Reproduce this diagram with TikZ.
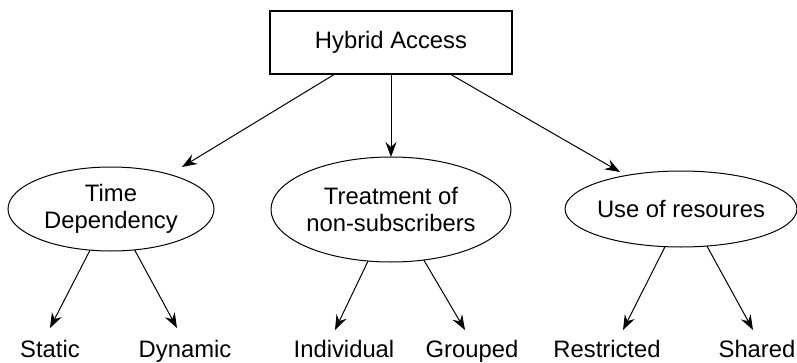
\documentclass[tikz,border=0pt]{standalone}
\usepackage{fontspec}
\setmainfont{Liberation Sans}
\usetikzlibrary{shapes.geometric,arrows.meta}
\begin{document}
\begin{tikzpicture}[x=1pt,y=1pt,
  every node/.style={font=\fontsize{23.8}{27}\selectfont, outer sep=0pt},
  topbox/.style={draw, line width=1.3pt, rectangle, minimum width=242pt, minimum height=63pt, inner sep=0pt},
  oval/.style={draw, line width=1pt, ellipse, inner sep=0pt, align=center},
  leaf/.style={anchor=base, inner sep=0pt},
  arr/.style={line width=1pt, -{Stealth[length=15pt,width=11pt,inset=5pt]}}]
\useasboundingbox (0,0) rectangle (797,362);
\node[topbox] (hyb) at (391,319.5) {Hybrid Access};
\node[oval, minimum width=206pt, minimum height=84pt] (td) at (111,153) {Time\\Dependency};
\node[oval, minimum width=240pt, minimum height=105pt] (tn) at (391,152.5) {Treatment of\\non-subscribers};
\node[oval, minimum width=231pt, minimum height=76pt, inner xsep=-2pt] (ur) at (681,153) {Use of resoures};
\node[leaf] (st) at (50,5) {Static};
\node[leaf] (dy) at (185,5) {Dynamic};
\node[leaf] (in) at (344,5) {Individual};
\node[leaf] (gr) at (472,5) {Grouped};
\node[leaf] (re) at (607,5) {Restricted};
\node[leaf] (sh) at (757,5) {Shared};
\draw[arr] ([xshift=-56pt]hyb.south) -- ([shift={(71pt,42pt)}]td.center);
\draw[arr] (hyb.south) -- (tn.north);
\draw[arr] ([xshift=59pt]hyb.south) -- ([shift={(-61pt,37pt)}]ur.center);
\draw[arr] (td.243) -- ([shift={(0pt,29pt)}]st.base);
\draw[arr] (td.300) -- ([shift={(-8pt,29pt)}]dy.base);
\draw[arr] (tn.246) -- ([shift={(-9pt,27pt)}]in.base);
\draw[arr] (tn.303) -- ([shift={(-7pt,27pt)}]gr.base);
\draw[arr] (ur.247) -- ([shift={(16pt,27pt)}]re.base);
\draw[arr] (ur.305) -- ([shift={(-4pt,27pt)}]sh.base);
\end{tikzpicture}
\end{document}
